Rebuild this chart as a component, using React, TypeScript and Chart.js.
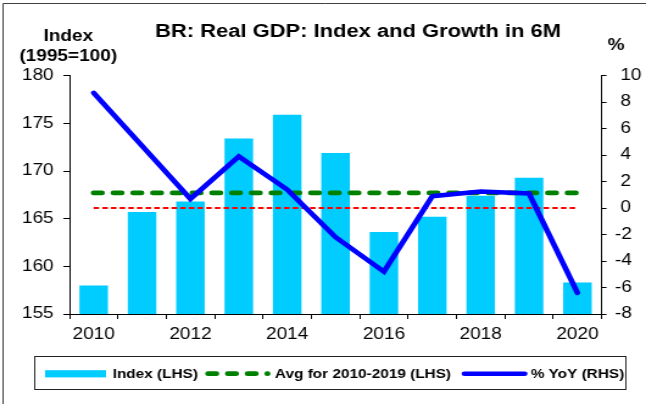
import React, { useEffect, useRef } from 'react';
import { Chart, registerables } from 'chart.js';

Chart.register(...registerables);

// ---- data ----
const categories = ['2010', '2011', '2012', '2013', '2014', '2015', '2016', '2017', '2018', '2019', '2020'];
const indexValues = [158.0, 165.7, 166.8, 173.4, 175.9, 171.9, 163.6, 165.2, 167.4, 169.3, 158.3];
const avgValues = [167.7, 167.7, 167.7, 167.7, 167.7, 167.7, 167.7, 167.7, 167.7, 167.7, 167.7];
const zeroValues = [0, 0, 0, 0, 0, 0, 0, 0, 0, 0, 0];
const yoyValues = [8.7, 4.7, 0.7, 3.9, 1.4, -2.2, -4.8, 0.9, 1.25, 1.1, -6.4];
const leftAxisRange = [155, 180];
const rightAxisRange = [-8, 10];
const leftStep = 5;
const rightStep = 2;

const titleText = 'BR: Real GDP: Index and Growth in 6M';
const leftAxisTitle = ['Index', '(1995=100)'];
const rightAxisTitle = '%';
const seriesLabels = ['Index (LHS)', 'Avg for 2010-2019 (LHS)', '% YoY (RHS)'];

// ---- layout constants ----
const FONT = "'Liberation Sans', Arial, Helvetica, sans-serif";
const CW = 530; // canvas drawing width (stretched to 646 on screen)
const CH = 404;

const decorPlugin = {
  id: 'decor',
  afterDraw(chart: any) {
    const ctx = chart.ctx as CanvasRenderingContext2D;
    const ds = chart.data.datasets;
    ctx.save();
    // outer frame (top & left)
    ctx.strokeStyle = '#404040';
    ctx.lineWidth = 1;
    ctx.beginPath();
    ctx.moveTo(2.5, CH);
    ctx.lineTo(2.5, 3.5);
    ctx.lineTo(CW, 3.5);
    ctx.stroke();

    // title
    ctx.fillStyle = '#000';
    ctx.textAlign = 'center';
    ctx.textBaseline = 'alphabetic';
    ctx.font = `bold 18px ${FONT}`;
    ctx.fillText(titleText, 293.7, 36.7);

    // axis titles
    ctx.font = `bold 15.6px ${FONT}`;
    ctx.fillText(leftAxisTitle[0], 56, 40.7);
    ctx.fillText(leftAxisTitle[1], 56, 60.7);
    ctx.fillText(rightAxisTitle, 505.5, 50);

    // legend box
    ctx.strokeStyle = '#222';
    ctx.lineWidth = 1;
    ctx.strokeRect(28.5, 356.5, 485, 33);

    const ly = 373.7;
    // bar swatch
    ctx.fillStyle = ds[0].backgroundColor;
    ctx.fillRect(37, 370.2, 50, 7.2);
    // green dashed swatch
    ctx.strokeStyle = ds[2].borderColor;
    ctx.lineWidth = 4.8;
    ctx.lineCap = 'round';
    ctx.setLineDash(ds[2].borderDash);
    ctx.beginPath();
    ctx.moveTo(170.7, ly);
    ctx.lineTo(219.5, ly);
    ctx.stroke();
    ctx.setLineDash([]);
    // blue swatch
    ctx.strokeStyle = ds[1].borderColor;
    ctx.lineWidth = 4.6;
    ctx.beginPath();
    ctx.moveTo(381, ly);
    ctx.lineTo(430.5, ly);
    ctx.stroke();

    // legend text
    ctx.fillStyle = '#000';
    ctx.textAlign = 'left';
    ctx.font = `bold 12.6px ${FONT}`;
    ctx.fillText(seriesLabels[0], 92.4, 377.8);
    ctx.fillText(seriesLabels[1], 225.6, 377.8);
    ctx.fillText(seriesLabels[2], 435.4, 377.8);
    ctx.restore();
  },
};

export default function App() {
  const ref = useRef<HTMLCanvasElement | null>(null);

  useEffect(() => {
    document.body.style.margin = '0';
    const canvas = ref.current;
    if (!canvas) return;
    const tickFont = { family: FONT, size: 15.6 };
    const chart = new Chart(canvas, {
      type: 'bar',
      data: {
        labels: categories,
        datasets: [
          {
            type: 'bar',
            label: seriesLabels[0],
            data: indexValues,
            backgroundColor: '#00CCFF',
            borderWidth: 0,
            yAxisID: 'y',
            barPercentage: 0.59,
            categoryPercentage: 1.0,
            order: 3,
          },
          {
            type: 'line',
            label: seriesLabels[2],
            data: yoyValues,
            borderColor: '#0000FF',
            borderWidth: 4.6,
            borderCapStyle: 'round',
            borderJoinStyle: 'miter',
            pointRadius: 0,
            tension: 0,
            fill: false,
            yAxisID: 'y1',
            order: 0,
          },
          {
            type: 'line',
            label: seriesLabels[1],
            data: avgValues,
            borderColor: '#008000',
            borderWidth: 4.8,
            borderDash: [6.8, 9.4],
            borderCapStyle: 'round',
            pointRadius: 0,
            tension: 0,
            fill: false,
            yAxisID: 'y',
            order: 1,
          },
          {
            type: 'line',
            label: 'zero',
            data: zeroValues,
            borderColor: '#FF0000',
            borderWidth: 2,
            borderDash: [4.5, 2.6],
            borderCapStyle: 'butt',
            pointRadius: 0,
            tension: 0,
            fill: false,
            yAxisID: 'y1',
            order: 2,
          },
        ] as any,
      },
      options: {
        responsive: false,
        animation: false,
        devicePixelRatio: 1,
        layout: { padding: { top: 75.7, bottom: 60, left: 0, right: 0 } },
        plugins: {
          legend: { display: false },
          title: { display: false },
          tooltip: { enabled: false },
        },
        scales: {
          x: {
            type: 'category',
            offset: true,
            afterFit: (s: any) => {
              s.height = 30;
            },
            grid: {
              display: true,
              drawOnChartArea: false,
              drawTicks: true,
              tickLength: 5,
              color: '#000',
              offset: true,
            },
            border: { display: true, color: '#000', width: 1 },
            ticks: {
              autoSkip: false,
              maxRotation: 0,
              minRotation: 0,
              padding: 6,
              color: '#000',
              font: tickFont,
              callback: (_v: any, i: number) => (i % 2 === 0 ? categories[i] : ''),
            },
          },
          y: {
            type: 'linear',
            position: 'left',
            min: leftAxisRange[0],
            max: leftAxisRange[1],
            afterFit: (s: any) => {
              s.width = 57;
            },
            grid: { drawOnChartArea: false, drawTicks: true, tickLength: 5, color: '#000' },
            border: { display: true, color: '#000', width: 1 },
            ticks: { stepSize: leftStep, padding: 8, color: '#000', font: tickFont },
          },
          y1: {
            type: 'linear',
            position: 'right',
            min: rightAxisRange[0],
            max: rightAxisRange[1],
            afterFit: (s: any) => {
              s.width = 36.4;
            },
            grid: { drawOnChartArea: false, drawTicks: true, tickLength: 4, color: '#000' },
            border: { display: true, color: '#000', width: 1 },
            ticks: {
              stepSize: rightStep,
              padding: 7,
              color: '#000',
              font: tickFont,
              callback: (v: any) => (Number(v) >= 0 ? ' ' + String(v) : String(v)),
            },
          },
        },
      } as any,
      plugins: [decorPlugin],
    });
    return () => {
      chart.destroy();
    };
  }, []);

  return (
    <div style={{ width: 646, height: 404, background: '#fff' }}>
      <canvas
        ref={ref}
        width={CW}
        height={CH}
        style={{ width: '646px', height: '404px', display: 'block' }}
      />
    </div>
  );
}
